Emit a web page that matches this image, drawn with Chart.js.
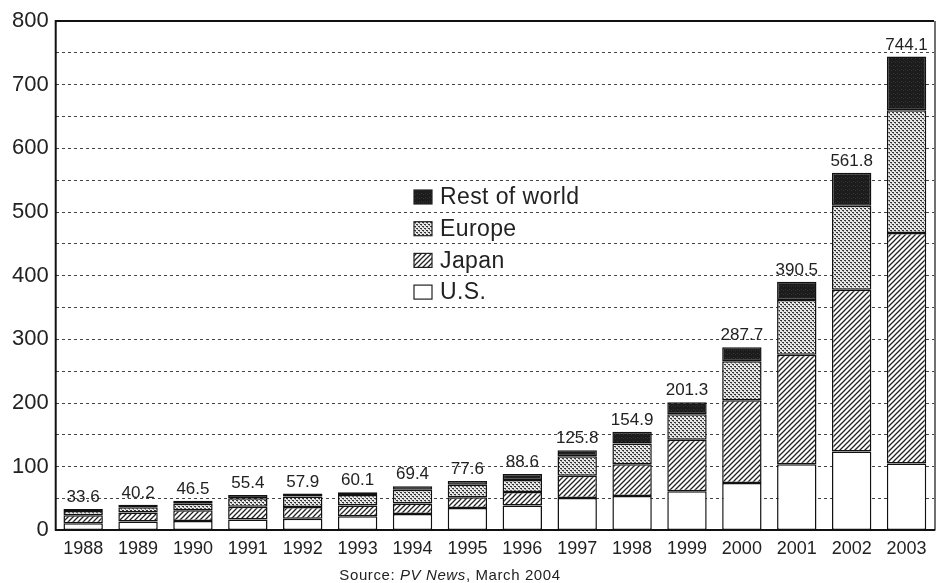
<!DOCTYPE html>
<html lang="en">
<head>
  <meta charset="UTF-8">
  <title>PV cell production by region</title>
  <script src="https://cdn.jsdelivr.net/npm/chart.js"></script>
  <style>
    body {
      margin: 0;
      padding: 0;
      background: #fff;
      font-family: "Liberation Sans", Arial, sans-serif;
    }
    #wrap {
      width: 936px;
      height: 583px;
      position: relative;
    }
    .source {
      position: absolute;
      left: 0;
      width: 900px;
      top: 566px;
      text-align: center;
      font-size: 15px;
      letter-spacing: 0.6px;
      color: #222;
    }
  </style>
</head>
<body>
  <div id="wrap">
    <canvas id="pvChart" width="936" height="568"></canvas>
    <div class="source">Source: <i>PV News</i>, March 2004</div>
  </div>

  <script>
    const years = ['1988', '1989', '1990', '1991', '1992', '1993', '1994', '1995',
                   '1996', '1997', '1998', '1999', '2000', '2001', '2002', '2003'];
    const us     = [11.1, 14.1, 14.8, 17.1, 18.1, 22.4, 25.6, 35.0, 39.0, 51.0, 54.0, 61.5, 74.5, 104.0, 124.0, 105.0];
    const japan  = [12.8, 14.2, 16.8, 19.9, 18.8, 16.7, 16.5, 17.0, 21.5, 35.0, 50.0, 81.0, 130.0, 172.0, 254.0, 362.0];
    const europe = [6.7, 7.9, 10.2, 13.4, 16.4, 16.6, 21.7, 19.5, 18.5, 30.4, 32.5, 40.0, 61.0, 86.0, 132.0, 193.0];
    const rest   = [3.0, 4.0, 4.7, 5.0, 4.6, 4.4, 5.6, 6.1, 9.6, 9.4, 18.4, 18.8, 22.2, 28.5, 51.8, 84.1];
    const totals = ['33.6', '40.2', '46.5', '55.4', '57.9', '60.1', '69.4', '77.6',
                    '88.6', '125.8', '154.9', '201.3', '287.7', '390.5', '561.8', '744.1'];

    const FONT = '"Liberation Sans", Arial, sans-serif';

    // fill patterns, scanned-print look
    function makePattern(kind) {
      const c = document.createElement('canvas');
      const ctx = c.getContext('2d');
      if (kind === 'hatch') {
        c.width = 5; c.height = 5;
        ctx.fillStyle = '#fff';
        ctx.fillRect(0, 0, 5, 5);
        ctx.strokeStyle = '#222';
        ctx.lineWidth = 1.3;
        ctx.beginPath();
        ctx.moveTo(-1, 6); ctx.lineTo(6, -1);
        ctx.moveTo(-1, 1); ctx.lineTo(1, -1);
        ctx.moveTo(4, 6); ctx.lineTo(6, 4);
        ctx.stroke();
      } else if (kind === 'dots') {
        c.width = 4; c.height = 4;
        ctx.fillStyle = '#e8e8e8';
        ctx.fillRect(0, 0, 4, 4);
        ctx.fillStyle = '#333';
        ctx.fillRect(0, 0, 2, 1);
        ctx.fillRect(2, 2, 2, 1);
        ctx.fillStyle = '#888';
        ctx.fillRect(1, 1, 1, 1);
        ctx.fillRect(3, 3, 1, 1);
      } else if (kind === 'dark') {
        c.width = 4; c.height = 4;
        ctx.fillStyle = '#1c1c1c';
        ctx.fillRect(0, 0, 4, 4);
        ctx.fillStyle = '#333';
        ctx.fillRect(1, 1, 1, 1);
        ctx.fillRect(3, 2, 1, 1);
      } else {
        c.width = 2; c.height = 2;
        ctx.fillStyle = '#fff';
        ctx.fillRect(0, 0, 2, 2);
      }
      return document.getElementById('pvChart').getContext('2d').createPattern(c, 'repeat');
    }

    const fills = {
      us: makePattern('white'),
      japan: makePattern('hatch'),
      europe: makePattern('dots'),
      rest: makePattern('dark')
    };

    // solid frame on left, top and right (grid lines themselves are dashed)
    const axisLine = {
      id: 'axisLine',
      afterDatasetsDraw(chart) {
        const a = chart.chartArea;
        const ctx = chart.ctx;
        ctx.save();
        ctx.strokeStyle = '#111';
        ctx.lineWidth = 2;
        ctx.beginPath();
        ctx.moveTo(a.left, a.bottom);
        ctx.lineTo(a.left, a.top);
        ctx.lineTo(a.right, a.top);
        ctx.stroke();
        ctx.lineWidth = 1.2;
        ctx.beginPath();
        ctx.moveTo(a.right + 1, a.top);
        ctx.lineTo(a.right + 1, a.bottom);
        ctx.stroke();
        ctx.restore();
      }
    };

    // totals above each stack
    const totalLabels = {
      id: 'totalLabels',
      afterDatasetsDraw(chart) {
        const ctx = chart.ctx;
        const top = chart.getDatasetMeta(chart.data.datasets.length - 1);
        ctx.save();
        ctx.font = '17px ' + FONT;
        ctx.fillStyle = '#222';
        ctx.textAlign = 'center';
        ctx.textBaseline = 'bottom';
        top.data.forEach((bar, i) => {
          ctx.fillText(totals[i], bar.x, bar.y - 3);
        });
        ctx.restore();
      }
    };

    // legend sits inside the plot, no frame
    const innerLegend = {
      id: 'innerLegend',
      afterDraw(chart) {
        const ctx = chart.ctx;
        const items = chart.data.datasets.slice().reverse();
        const x = 414, y0 = 197, step = 31.7;
        ctx.save();
        ctx.font = '23px ' + FONT;
        ctx.letterSpacing = '0.4px';
        ctx.textBaseline = 'middle';
        items.forEach((ds, i) => {
          const y = y0 + i * step;
          ctx.fillStyle = '#fff';
          ctx.fillRect(x - 4, y - 12, 180, 24);
          ctx.fillStyle = ds.backgroundColor;
          ctx.fillRect(x, y - 7, 18, 14);
          ctx.strokeStyle = '#222';
          ctx.lineWidth = 1.2;
          ctx.strokeRect(x, y - 7, 18, 14);
          ctx.fillStyle = '#222';
          ctx.fillText(ds.label, x + 26, y + 1);
        });
        ctx.restore();
      }
    };

    function dataset(label, data, fill) {
      return {
        label: label,
        data: data,
        backgroundColor: fill,
        borderColor: '#111',
        borderWidth: 1.5,
        borderSkipped: false,
        categoryPercentage: 0.78,
        barPercentage: 0.92
      };
    }

    new Chart(document.getElementById('pvChart'), {
      type: 'bar',
      data: {
        labels: years,
        datasets: [
          dataset('U.S.', us, fills.us),
          dataset('Japan', japan, fills.japan),
          dataset('Europe', europe, fills.europe),
          dataset('Rest of world', rest, fills.rest)
        ]
      },
      options: {
        responsive: false,
        animation: false,
        layout: { padding: { top: 21, left: 5, right: 2, bottom: 0 } },
        plugins: {
          legend: { display: false },
          tooltip: { enabled: false }
        },
        scales: {
          x: {
            stacked: true,
            grid: { display: false, drawTicks: false },
            border: { color: '#111', width: 2 },
            ticks: { color: '#222', font: { family: FONT, size: 18 }, padding: 8, maxRotation: 0 }
          },
          y: {
            stacked: true,
            min: 0,
            max: 800,
            grid: {
              color: '#444',
              lineWidth: 1,
              drawTicks: false
            },
            border: { display: false, dash: [3, 3] },
            ticks: {
              stepSize: 50,
              color: '#222',
              padding: 7,
              font: { family: FONT, size: 22 },
              callback: v => (v % 100 === 0 ? v : '')
            }
          }
        }
      },
      plugins: [axisLine, totalLabels, innerLegend]
    });
  </script>
</body>
</html>
